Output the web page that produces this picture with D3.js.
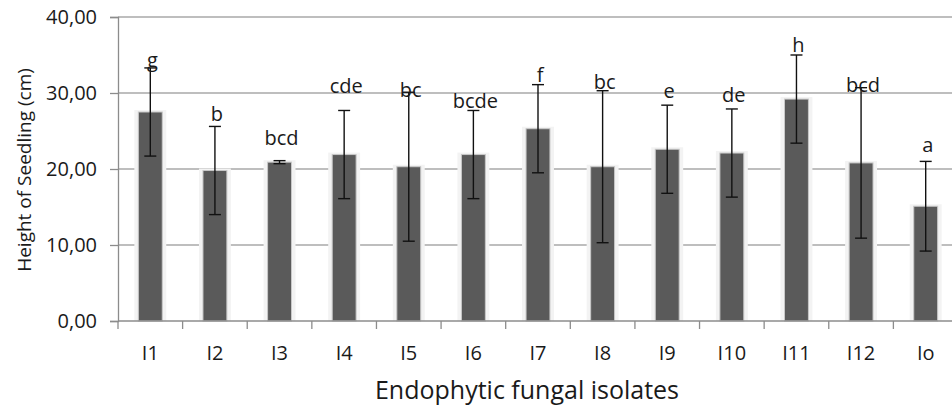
<!DOCTYPE html>
<html>
<head>
<meta charset="utf-8">
<style>
  body { margin: 0; background: #fff; }
  text { font-family: "Open Sans", sans-serif; fill: #1a1a1a; }
</style>
</head>
<body>
<svg width="952" height="407"></svg>
<script src="https://d3js.org/d3.v7.min.js"></script>
<script>
	// data
	const isolates = ["I1", "I2", "I3", "I4", "I5", "I6", "I7", "I8", "I9", "I10", "I11", "I12", "Io"];
	const heights = [27.5, 19.8, 20.9, 21.9, 20.3, 21.9, 25.3, 20.3, 22.6, 22.1, 29.2, 20.8, 15.1];
	const sd = [5.8, 5.8, 0.2, 5.8, 9.8, 5.8, 5.8, 10.0, 5.8, 5.8, 5.8, 9.9, 5.9];
	const letters = ["g", "b", "bcd", "cde", "bc", "bcde", "f", "bc", "e", "de", "h", "bcd", "a"];
	const letterPos = [33.4, 26.3, 23.2, 30.0, 29.5, 28.0, 31.5, 30.5, 29.3, 28.8, 35.4, 30.1, 22.2]; // baseline, in cm
	const yTicks = [0, 10, 20, 30, 40];

	const svg = d3.select("svg");
	const margin = { top: 17, right: -6, bottom: 86, left: 118 };
	const W = +svg.attr("width");
	const H = +svg.attr("height");

	const x = d3.scaleBand().domain(isolates).range([margin.left, W - margin.right]).padding(0);
	const y = d3.scaleLinear().domain([0, 40]).range([H - margin.bottom, margin.top]);
	const barW = x.bandwidth() * 0.37;
	const cx = (d) => x(d) + x.bandwidth() / 2;

	// gridlines
	svg.append("g")
		.selectAll("line")
		.data(yTicks.slice(1))
		.join("line")
		.attr("x1", margin.left)
		.attr("x2", W)
		.attr("y1", (d) => y(d))
		.attr("y2", (d) => y(d))
		.attr("stroke", "#a8a8a8")
		.attr("stroke-width", 1.3);

	// y axis
	const yAxis = svg.append("g")
		.attr("transform", "translate(" + margin.left + ",0)")
		.call(d3.axisLeft(y).tickValues(yTicks).tickSize(8).tickPadding(13)
			.tickFormat((d) => d3.format(".2f")(d).replace(".", ",")));
	yAxis.select(".domain").attr("stroke", "#8c8c8c").attr("stroke-width", 1.3);
	yAxis.selectAll(".tick line").attr("stroke", "#8c8c8c").attr("stroke-width", 1.3);
	yAxis.selectAll("text").style("font-size", "20px").style("font-family", "Open Sans");

	// bars (with soft halo like the original)
	const bars = svg.append("g");
	bars.selectAll("rect.halo")
		.data(isolates)
		.join("rect")
		.attr("class", "halo")
		.attr("x", (d) => cx(d) - barW / 2 - 4)
		.attr("width", barW + 8)
		.attr("y", (d, i) => y(heights[i]) - 2)
		.attr("height", (d, i) => y(0) - y(heights[i]) + 2)
		.attr("fill", "#f3f3f3");
	bars.selectAll("rect.bar")
		.data(isolates)
		.join("rect")
		.attr("class", "bar")
		.attr("x", (d) => cx(d) - barW / 2)
		.attr("width", barW)
		.attr("y", (d, i) => y(heights[i]))
		.attr("height", (d, i) => y(0) - y(heights[i]))
		.attr("fill", "#5a5a5a")
		.attr("stroke", "#c8c8c8")
		.attr("stroke-width", 1);

	// x axis
	svg.append("line")
		.attr("x1", margin.left).attr("x2", W)
		.attr("y1", y(0)).attr("y2", y(0))
		.attr("stroke", "#8c8c8c").attr("stroke-width", 1.3);
	svg.append("g")
		.selectAll("line")
		.data(isolates)
		.join("line")
		.attr("x1", (d) => x(d))
		.attr("x2", (d) => x(d))
		.attr("y1", y(0))
		.attr("y2", y(0) + 8)
		.attr("stroke", "#8c8c8c")
		.attr("stroke-width", 1.3);
	const xAxis = svg.append("g")
		.attr("transform", "translate(0," + y(0) + ")")
		.call(d3.axisBottom(x).tickSize(0).tickPadding(25));
	xAxis.select(".domain").remove();
	xAxis.selectAll("text").style("font-size", "20px").style("font-family", "Open Sans");

	// error bars
	const err = svg.append("g").attr("stroke", "#111").attr("stroke-width", 1.4);
	const cap = 6;
	isolates.forEach((d, i) => {
		const hi = y(heights[i] + sd[i]);
		const lo = y(heights[i] - sd[i]);
		err.append("line").attr("x1", cx(d)).attr("x2", cx(d)).attr("y1", hi).attr("y2", lo);
		err.append("line").attr("x1", cx(d) - cap).attr("x2", cx(d) + cap).attr("y1", hi).attr("y2", hi);
		err.append("line").attr("x1", cx(d) - cap).attr("x2", cx(d) + cap).attr("y1", lo).attr("y2", lo);
	});

	// significance letters
	svg.append("g")
		.selectAll("text")
		.data(isolates)
		.join("text")
		.attr("x", (d) => cx(d) + 2)
		.attr("y", (d, i) => y(letterPos[i]))
		.attr("text-anchor", "middle")
		.style("font-size", "20px")
		.text((d, i) => letters[i]);

	// axis titles
	svg.append("text")
		.attr("x", 527)
		.attr("y", 399)
		.attr("text-anchor", "middle")
		.style("font-size", "25px")
		.text("Endophytic fungal isolates");
	svg.append("text")
		.attr("transform", "translate(31," + 170 + ") rotate(-90)")
		.attr("text-anchor", "middle")
		.style("font-size", "19px")
		.text("Height of Seedling (cm)");
</script>
</body>
</html>
